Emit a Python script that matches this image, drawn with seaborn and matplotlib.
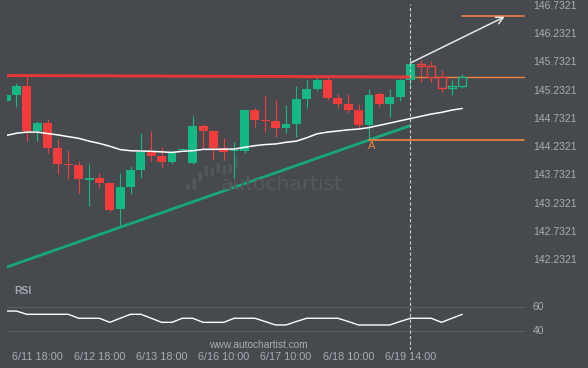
import numpy as np
import pandas as pd
import matplotlib
matplotlib.use("Agg")
import matplotlib.pyplot as plt
import matplotlib.transforms as mtransforms
from matplotlib.patches import FancyArrowPatch, FancyBboxPatch
import seaborn as sns

# ---------------- data ----------------
opens = [145.03, 145.14, 145.30, 144.50, 144.64, 144.20, 143.92, 143.90, 143.64, 143.67,
         143.58, 143.12, 143.51, 143.81, 144.13, 144.06, 143.95, 144.165, 143.93, 144.59,
         144.50, 144.20, 144.14, 144.15, 144.87, 144.69, 144.68, 144.55, 144.62, 145.07,
         145.24, 145.40, 145.08, 144.98, 144.87, 144.61, 145.16, 144.98, 145.10, 145.40,
         145.69, 145.65, 145.46, 145.26, 145.30]
highs = [145.16, 145.35, 145.49, 144.68, 144.71, 144.36, 144.16, 143.97, 143.92, 143.76,
         143.60, 143.76, 143.88, 144.46, 144.50, 144.22, 144.16, 144.185, 144.77, 144.62,
         144.51, 144.38, 144.31, 144.89, 144.91, 145.14, 145.05, 144.96, 145.30, 145.40,
         145.44, 145.44, 145.16, 145.16, 144.98, 145.24, 145.19, 145.24, 145.42, 145.81,
         145.76, 145.74, 145.58, 145.40, 145.51]
lows = [145.01, 144.93, 144.32, 144.32, 144.11, 143.74, 143.65, 143.40, 143.17, 143.49,
        143.07, 142.80, 143.38, 143.67, 143.97, 143.84, 143.92, 144.16, 143.92, 144.18,
        143.99, 143.99, 143.67, 144.11, 144.57, 144.48, 144.39, 144.46, 144.39, 144.91,
        145.21, 145.05, 144.91, 144.82, 144.55, 144.34, 144.93, 144.75, 145.03, 145.26,
        145.37, 145.37, 145.19, 145.14, 145.26]
closes = [145.14, 145.30, 144.50, 144.64, 144.20, 143.92, 143.90, 143.65, 143.66, 143.58,
          143.10, 143.51, 143.81, 144.13, 144.06, 143.95, 144.11, 144.18, 144.59, 144.50,
          144.20, 144.13, 144.15, 144.87, 144.69, 144.68, 144.55, 144.62, 145.07, 145.24,
          145.40, 145.08, 144.98, 144.87, 144.61, 145.14, 144.98, 145.10, 145.40, 145.69,
          145.65, 145.46, 145.26, 145.30, 145.46]
moving_avg = [144.42, 144.46, 144.48, 144.48, 144.455, 144.43, 144.40, 144.37, 144.32, 144.28,
              144.23, 144.17, 144.15, 144.145, 144.14, 144.13, 144.12, 144.14, 144.15, 144.175,
              144.175, 144.177, 144.18, 144.21, 144.24, 144.26, 144.27, 144.30, 144.32, 144.38,
              144.45, 144.48, 144.50, 144.52, 144.535, 144.56, 144.60, 144.64, 144.68, 144.72,
              144.76, 144.80, 144.83, 144.87, 144.90]
rsi = [56.2, 56.2, 53.5, 53.5, 53.5, 53.5, 53.5, 50.2, 50.2, 50.2,
       46.8, 50.2, 53.5, 53.5, 50.2, 46.8, 46.8, 50.2, 50.2, 46.8,
       46.8, 46.8, 50.2, 50.2, 50.2, 47.4, 44.6, 44.6, 47.5, 50.2,
       50.2, 50.2, 50.2, 47.5, 44.6, 44.6, 44.6, 44.6, 47.5, 50.2,
       50.2, 50.2, 46.8, 50.2, 53.5]

tick_idx = [3, 9, 15, 21, 27, 33, 39]
tick_labels = ["6/11 18:00", "6/12 18:00", "6/13 18:00", "6/16 10:00",
               "6/17 10:00", "6/18 10:00", "6/19 14:00"]
price_ticks = [142.2321, 142.7321, 143.2321, 143.7321, 144.2321,
               144.7321, 145.2321, 145.7321, 146.2321, 146.7321]
rsi_ticks = [40, 60]

now_idx = 39                       # last completed candle (dashed line)
trend_x, trend_y = [0, 39], [142.085, 144.597]
resist_x, resist_y = [0, 39], [145.483, 145.456]
breakout_x, breakout_y = [39, 49.95], [145.456, 145.456]
support_x, support_y = [35, 49.95], [144.335, 144.335]
target_x, target_y = [44, 49.95], [146.532, 146.532]
arrow_from, arrow_to = (39, 145.705), (48.1, 146.525)
label_A = (35.24, 144.234)

# ---------------- style ----------------
BG = "#46494e"
TXT = "#a9acb2"
GREEN = "#13b884"
RED = "#f53c3c"
TREND_G = "#17a878"
RES_R = "#e23a3a"
ORANGE = "#f5813f"

sns.set_style("dark", {"axes.facecolor": BG, "figure.facecolor": BG})
plt.rcParams["font.family"] = ["Liberation Sans", "DejaVu Sans"]

fig = plt.figure(figsize=(5.88, 3.68), dpi=100)
W, H = 588, 368
L, R = 7, 526
ax = fig.add_axes([L / W, 1 - 283 / H, (R - L) / W, 283 / H])
ax2 = fig.add_axes([L / W, 1 - 350 / H, (R - L) / W, 67 / H], sharex=ax)

for a in (ax, ax2):
    a.set_facecolor(BG)
    for s in a.spines.values():
        s.set_visible(False)
    a.grid(False)

df = pd.DataFrame({"i": np.arange(len(opens)), "open": opens, "high": highs,
                   "low": lows, "close": closes, "ma": moving_avg, "rsi": rsi})
df["up"] = df["close"] >= df["open"]
df["col"] = np.where(df["up"], GREEN, RED)
df["bot"] = df[["open", "close"]].min(axis=1)
df["hgt"] = (df["close"] - df["open"]).abs().clip(lower=0.018)

# watermark
pix = mtransforms.Affine2D().scale(1 / W, -1 / H).translate(0, 1) + fig.transFigure
logo_x = [187, 193, 199, 205, 211, 217, 223, 229, 235]
logo_top = [184, 178, 172, 166, 168, 163, 165, 164, 157]
logo_bot = [190, 190, 182, 176, 176, 173, 174, 173, 168]
for lx, lt, lb in zip(logo_x, logo_top, logo_bot):
    ax.add_patch(FancyBboxPatch((lx, lb), 2.6, lt - lb, boxstyle="round,pad=0.4",
                                transform=pix, facecolor="#53565b", edgecolor="none",
                                zorder=0.5))
fig.text(282 / W, 1 - 184 / H, "autochartist", color="#54575c", fontsize=14.5,
         family="DejaVu Sans", ha="center", va="center", zorder=0.5)

# candles
filled = df[df["i"] <= now_idx]
hollow = df[df["i"] > now_idx]
ax.vlines(df["i"], df["low"], df["high"], colors=df["col"], linewidth=0.8, zorder=2)
ax.bar(filled["i"], filled["hgt"], bottom=filled["bot"], width=0.86,
       color=filled["col"], linewidth=0, zorder=3)
ax.bar(hollow["i"], hollow["hgt"], bottom=hollow["bot"], width=0.78,
       facecolor=BG, edgecolor=hollow["col"], linewidth=1.0, zorder=3)

# moving average
sns.lineplot(x=df["i"], y=df["ma"], ax=ax, color="white", linewidth=1.1, zorder=4)

# pattern lines
ax.plot(trend_x, trend_y, color=TREND_G, linewidth=2.0, zorder=5, solid_capstyle="butt")
ax.plot(resist_x, resist_y, color=RES_R, linewidth=2.2, zorder=5, solid_capstyle="butt")
ax.plot(breakout_x, breakout_y, color=ORANGE, linewidth=1.0, zorder=2.5)
ax.plot(support_x, support_y, color=ORANGE, linewidth=1.2, zorder=5)
ax.plot(target_x, target_y, color=ORANGE, linewidth=1.2, zorder=5)
ax.add_patch(FancyArrowPatch(arrow_from, arrow_to, arrowstyle="->,head_length=5,head_width=2.6",
                             color="#e6e6e6", linewidth=1.1, shrinkA=0, shrinkB=0, zorder=6))
ax.text(label_A[0], label_A[1], "A", color=ORANGE, fontsize=8, ha="center", va="center", zorder=6)

ax.axvline(now_idx, ymin=0, ymax=1 - 4 / 283, color="#c9c9c9", linewidth=0.8,
           dashes=(3, 2), zorder=6)
ax2.axvline(now_idx, color="#c9c9c9", linewidth=0.8, dashes=(3, 2), zorder=6)

ax.set_xlim((L - 6.1) / 10.368, (R - 6.1) / 10.368)
ax.set_ylim(146.8207 - 283 * 0.017718, 146.8207)
ax.yaxis.tick_right()
ax.set_yticks(price_ticks)
ax.set_yticklabels([f"{v:.4f}" for v in price_ticks])
ax.tick_params(axis="y", length=0, pad=5, labelsize=7.5, labelcolor=TXT)
ax.tick_params(axis="x", length=0, labelbottom=False)
ax.set_xlabel("")
ax.set_ylabel("")

# RSI panel
for v in rsi_ticks:
    ax2.axhline(v, color="#5a5d62", linewidth=0.8, zorder=1)
sns.lineplot(x=df["i"], y=df["rsi"], ax=ax2, color="white", linewidth=1.0, zorder=4)
ax2.set_ylim(60 - (350 - 306.5) / 1.2, 60 + (306.5 - 283) / 1.2)
ax2.yaxis.tick_right()
ax2.set_yticks(rsi_ticks)
ax2.set_yticklabels([str(v) for v in rsi_ticks])
ax2.set_xticks(tick_idx)
ax2.set_xticklabels(tick_labels)
ax2.tick_params(axis="y", length=0, pad=5, labelsize=7.5, labelcolor=TXT)
ax2.tick_params(axis="x", length=0, pad=1.5, labelsize=7.8, labelcolor=TXT)
ax2.set_xlabel("")
ax2.set_ylabel("")
ax2.text((14 - L) / (R - L), (350 - 291) / 67, "RSI", transform=ax2.transAxes,
         color="#a3a6ad", fontsize=7.5, fontweight="bold", ha="left", va="center")

fig.text(258 / W, 1 - 345 / H, "www.autochartist.com", color=TXT, fontsize=7.3,
         ha="center", va="center")

fig.savefig("out.png", dpi=100, facecolor=BG)
